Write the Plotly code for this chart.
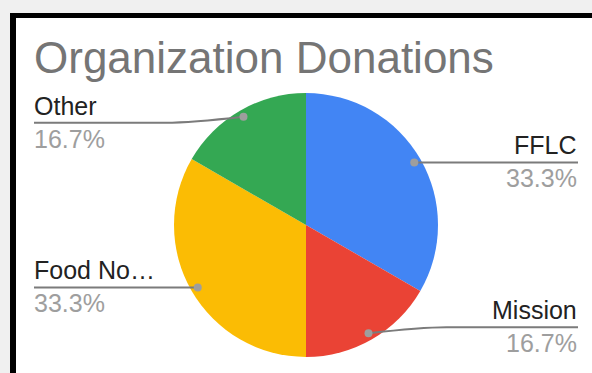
import math
import plotly.graph_objects as go

# ---- data ----
categories = ["FFLC", "Mission", "Food No…", "Other"]
donations = [2, 1, 2, 1]
slice_colors = ["#4285F4", "#EA4335", "#FBBC04", "#34A853"]

# ---- canvas / layout constants (pixels) ----
W, H = 592, 373
CX, CY, R = 306, 225, 132          # pie centre and radius
DOT_FRAC = 0.947                   # leader dot distance from centre (fraction of R)
LEFT_EDGE, RIGHT_EDGE = 34, 578    # where leader lines end / labels align
BEND = 78                          # horizontal run before a bent leader curves to its dot
label_nudge = {"Other": 6, "Mission": -6}   # keep labels clear of title / frame
LABEL_FS = 25
TITLE_FS = 44


def px(x):
    return x / W


def py(y):
    return 1 - y / H


def center_for_baseline(baseline, fs):
    return baseline - 0.3465 * fs


fig = go.Figure(
    go.Pie(
        labels=categories,
        values=donations,
        sort=False,
        direction="clockwise",
        rotation=0,
        marker=dict(colors=slice_colors, line=dict(width=0)),
        textinfo="none",
        hoverinfo="label+percent",
        showlegend=False,
        domain=dict(x=[px(CX - R), px(CX + R)], y=[py(CY + R), py(CY - R)]),
    )
)

shapes = [
    # chart frame: black border on top/left, white plot card
    dict(type="rect", xref="paper", yref="paper", x0=px(10), x1=px(W + 10),
         y0=py(H + 10), y1=py(13), fillcolor="#000000", line=dict(width=0), layer="below"),
    dict(type="rect", xref="paper", yref="paper", x0=px(16), x1=px(W + 10),
         y0=py(H + 10), y1=py(18), fillcolor="#ffffff", line=dict(width=0), layer="below"),
]
annotations = [
    dict(text="Organization Donations", x=px(32), y=py(center_for_baseline(72.7, TITLE_FS)),
         xref="paper", yref="paper", xanchor="left", yanchor="middle", showarrow=False,
         font=dict(family="Liberation Sans, Arial", size=TITLE_FS, color="#757575")),
]

total = sum(donations)
start = 0.0
for cat, val in zip(categories, donations):
    sweep = val / total * 360
    mid = math.radians(start + sweep / 2)
    start += sweep
    dx = CX + DOT_FRAC * R * math.sin(mid)
    dy = CY - DOT_FRAC * R * math.cos(mid)
    right = math.sin(mid) > 0
    line_y = dy + label_nudge.get(cat, 0)
    edge = RIGHT_EDGE if right else LEFT_EDGE

    if abs(line_y - dy) < 0.5:
        path = f"M {px(edge)},{py(line_y)} L {px(dx)},{py(dy)}"
    else:
        bx = dx + BEND if right else dx - BEND
        cx1 = bx - 25 if right else bx + 25
        path = (f"M {px(edge)},{py(line_y)} L {px(bx)},{py(line_y)} "
                f"Q {px(cx1)},{py(line_y)} {px(dx)},{py(dy)}")
    shapes.append(dict(type="path", xref="paper", yref="paper", path=path,
                       line=dict(color="#7b7b7b", width=2)))
    shapes.append(dict(type="circle", xref="paper", yref="paper",
                       x0=px(dx - 4), x1=px(dx + 4), y0=py(dy + 4), y1=py(dy - 4),
                       fillcolor="#9e9e9e", line=dict(width=0)))

    anchor = "right" if right else "left"
    tx = px(edge + 1) if right else px(edge - 2)
    annotations.append(dict(
        text=cat, x=tx, y=py(center_for_baseline(line_y - 8.5, LABEL_FS)),
        xref="paper", yref="paper", xanchor=anchor, yanchor="middle", showarrow=False,
        font=dict(family="Liberation Sans, Arial", size=LABEL_FS, color="#222222")))
    annotations.append(dict(
        text=f"{val / total * 100:.1f}%", x=tx,
        y=py(center_for_baseline(line_y + 24.5, LABEL_FS)),
        xref="paper", yref="paper", xanchor=anchor, yanchor="middle", showarrow=False,
        font=dict(family="Liberation Sans, Arial", size=LABEL_FS, color="#9e9e9e")))

fig.update_layout(
    width=W, height=H,
    margin=dict(l=0, r=0, t=0, b=0),
    paper_bgcolor="#f0f0f0",
    plot_bgcolor="#f0f0f0",
    shapes=shapes,
    annotations=annotations,
)

fig.write_html("out.html", config={"displayModeBar": False})
